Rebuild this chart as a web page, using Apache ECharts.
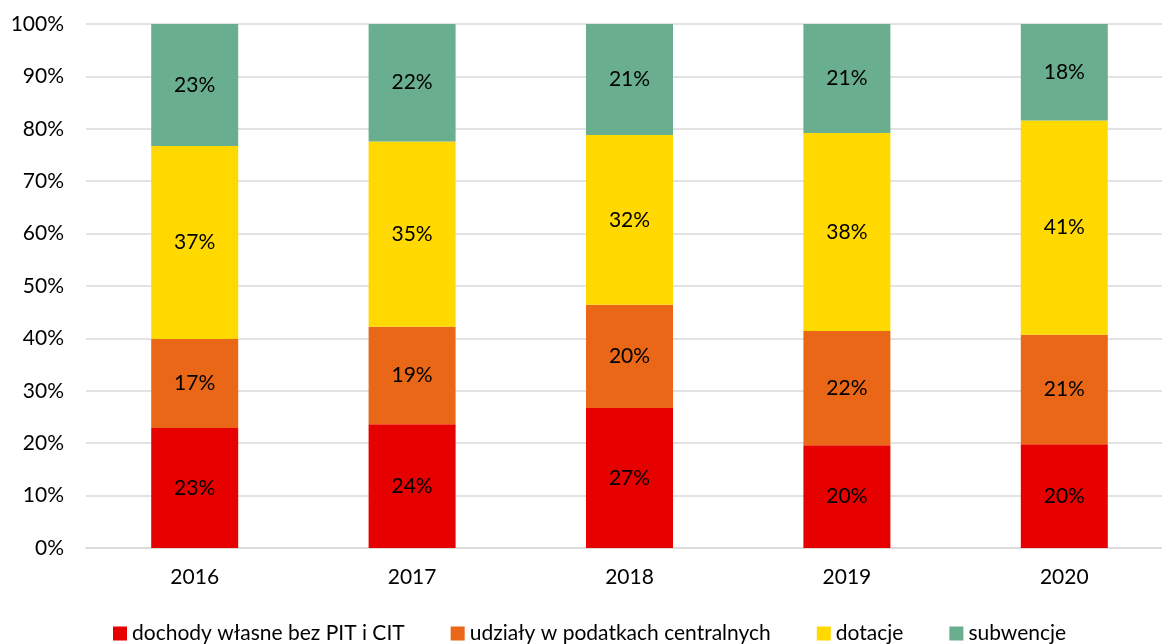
<!DOCTYPE html>
<html>
<head>
<meta charset="utf-8">
<script src="https://cdn.jsdelivr.net/npm/echarts@6/dist/echarts.min.js"></script>
<style>
  html, body { margin: 0; padding: 0; background: #fff; }
  #main { width: 1162px; height: 644px; }
</style>
</head>
<body>
<div id="main"></div>
<script>
var years = ['2016', '2017', '2018', '2019', '2020'];
// shares in percent
var dochody = [22.9, 23.6, 26.7, 19.6, 19.8];
var udzialy = [17.0, 18.6, 19.7, 21.8, 20.9];
var dotacje = [36.8, 35.4, 32.4, 37.8, 40.9];
var subwencje = [23.3, 22.4, 21.2, 20.8, 18.4];

var names = ['dochody własne bez PIT i CIT', 'udziały w podatkach centralnych', 'dotacje', 'subwencje'];
var colors = ['#e60000', '#e96717', '#ffd900', '#6aae90'];
var seriesData = [dochody, udzialy, dotacje, subwencje];

var font = 'Lato, "Open Sans", sans-serif';
var fs = 21;

var chart = echarts.init(document.getElementById('main'));

var series = [];
for (var i = 0; i < seriesData.length; i++) {
  series.push({
    name: names[i],
    type: 'bar',
    stack: 'total',
    barWidth: 87,
    data: seriesData[i],
    itemStyle: { color: colors[i] },
    label: {
      show: true,
      position: 'inside',
      color: '#000',
      fontFamily: font,
      fontSize: fs,
      formatter: function (p) { return Math.round(p.value) + '%'; }
    }
  });
}

var option = {
  animation: false,
  color: colors,
  textStyle: { fontFamily: font },
  // the plot runs past the right edge of the picture
  grid: { left: 86, width: 1087, top: 24, bottom: 96, outerBoundsMode: 'none' },
  legend: {
    top: 623,
    left: 113,
    padding: 0,
    itemWidth: 14,
    itemHeight: 14,
    itemGap: 46,
    icon: 'rect',
    textStyle: { fontFamily: font, fontSize: fs, color: '#000' },
    data: names
  },
  xAxis: {
    type: 'category',
    data: years,
    axisTick: { show: false },
    axisLine: { show: true, lineStyle: { color: '#d9d9d9', width: 1.5 } },
    axisLabel: { color: '#000', fontFamily: font, fontSize: fs, margin: 19 }
  },
  yAxis: {
    type: 'value',
    min: 0,
    max: 100,
    interval: 10,
    axisLine: { show: false },
    axisTick: { show: false },
    axisLabel: { color: '#000', fontFamily: font, fontSize: fs, margin: 22, formatter: '{value}%' },
    splitLine: { lineStyle: { color: '#d9d9d9', width: 1.5 } }
  },
  series: series
};

chart.setOption(option);
</script>
</body>
</html>
